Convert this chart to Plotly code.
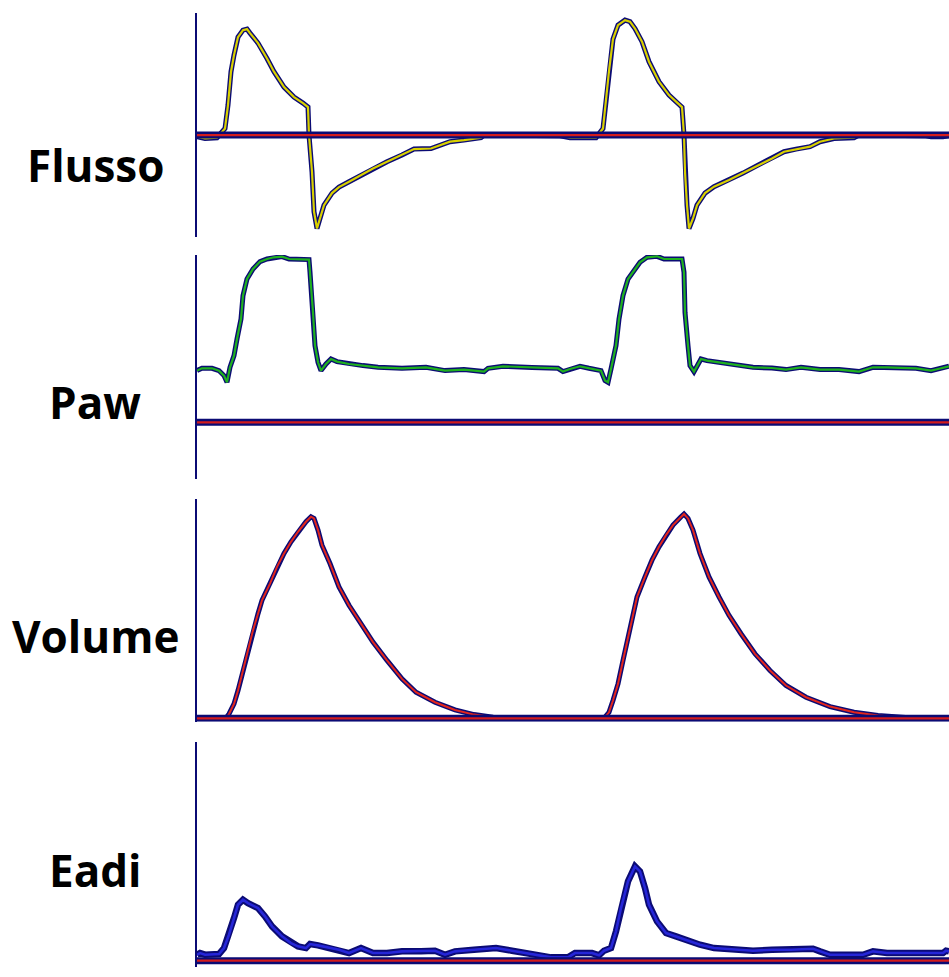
import plotly.graph_objects as go

# ---------------- data ----------------
# time in seconds, 100 px = 1 s
flow_t = [0.00, 0.08, 0.20, 0.24, 0.28, 0.31, 0.34, 0.37, 0.41, 0.46, 0.50, 0.53, 0.61, 0.70, 0.77,
          0.87, 0.97, 1.06, 1.11, 1.12, 1.15, 1.17, 1.20, 1.22, 1.27, 1.35, 1.42, 1.52, 1.64, 1.76,
          1.90, 2.05, 2.17, 2.34, 2.43, 2.53, 2.67, 2.84, 2.87, 3.63, 3.73, 3.99, 4.06, 4.09, 4.12,
          4.16, 4.21, 4.28, 4.33, 4.38, 4.45, 4.52, 4.62, 4.72, 4.81, 4.85, 4.87, 4.88, 4.90, 4.92,
          4.96, 5.00, 5.08, 5.17, 5.32, 5.46, 5.61, 5.75, 5.87, 5.99, 6.13, 6.23, 6.37, 6.57, 6.62,
          7.29, 7.34, 7.46, 7.52]
flusso = [-0.8, -1.7, -1.3, 0.8, 3.3, 15.0, 31.7, 40.0, 49.0, 52.5, 53.0, 51.0, 46.0, 38.3, 31.7,
          24.0, 19.0, 16.0, 14.0, 0.0, -18.3, -38.3, -46.7, -43.3, -35.0, -29.0, -26.0, -23.3, -20.0, -16.7,
          -13.3, -10.0, -7.0, -6.7, -5.0, -3.3, -2.5, -1.3, 0.0, -0.3, -1.3, -1.3, 3.3, 18.0, 32.0,
          48.0, 55.0, 57.5, 56.7, 53.3, 46.7, 36.7, 26.7, 20.0, 15.8, 14.0, 0.0, -18.3, -35.0, -46.7,
          -41.7, -35.0, -29.0, -25.8, -22.5, -19.0, -15.0, -11.7, -8.3, -7.0, -5.8, -3.3, -1.7, -1.3, 0.0,
          -0.3, -0.8, -0.8, -0.3]

paw_t = [0.00, 0.05, 0.15, 0.22, 0.27, 0.30, 0.33, 0.37, 0.40, 0.44, 0.46, 0.50, 0.56, 0.63, 0.70,
         0.77, 0.85, 0.92, 1.12, 1.13, 1.16, 1.18, 1.21, 1.24, 1.29, 1.34, 1.40, 1.52, 1.66, 1.81,
         2.05, 2.29, 2.48, 2.67, 2.87, 2.91, 3.06, 3.35, 3.61, 3.66, 3.73, 3.83, 3.92, 4.04, 4.08,
         4.11, 4.14, 4.19, 4.22, 4.26, 4.31, 4.37, 4.43, 4.50, 4.60, 4.67, 4.85, 4.87, 4.88, 4.91,
         4.93, 4.97, 5.00, 5.04, 5.10, 5.22, 5.37, 5.56, 5.75, 5.89, 6.04, 6.23, 6.42, 6.62, 6.76,
         6.90, 7.19, 7.34, 7.41, 7.52]
paw = [5.17, 5.40, 5.40, 5.17, 4.67, 4.00, 5.50, 6.67, 8.33, 10.33, 12.67, 14.33, 15.33, 16.07, 16.33,
       16.50, 16.57, 16.33, 16.27, 15.00, 11.00, 7.67, 6.00, 5.17, 5.83, 6.33, 6.07, 5.83, 5.67, 5.50,
       5.40, 5.50, 5.17, 5.27, 5.07, 5.40, 5.60, 5.47, 5.40, 5.07, 5.33, 5.60, 5.40, 5.17, 4.17,
       4.00, 5.33, 7.67, 10.33, 12.67, 14.33, 15.17, 16.00, 16.50, 16.60, 16.33, 16.33, 15.00, 11.00, 7.67,
       5.67, 5.07, 5.67, 6.33, 6.17, 6.00, 5.73, 5.50, 5.43, 5.27, 5.50, 5.27, 5.27, 5.07, 5.50,
       5.50, 5.40, 5.17, 5.33, 5.60]

vol_t = [0.00, 0.29, 0.32, 0.37, 0.41, 0.46, 0.51, 0.56, 0.61, 0.65, 0.73, 0.80, 0.87, 0.94, 1.01,
         1.09, 1.14, 1.17, 1.21, 1.25, 1.33, 1.42, 1.52, 1.64, 1.76, 1.90, 2.05, 2.19, 2.38, 2.58,
         2.77, 2.96, 3.11, 4.07, 4.12, 4.16, 4.21, 4.26, 4.31, 4.36, 4.40, 4.48, 4.55, 4.62, 4.69,
         4.76, 4.84, 4.87, 4.91, 4.96, 5.03, 5.12, 5.22, 5.32, 5.44, 5.58, 5.73, 5.89, 6.09, 6.33,
         6.57, 6.81, 7.05, 7.19, 7.52]
volume = [0.0, 0.0, 10.8, 35.8, 69.2, 119.2, 169.2, 219.2, 260.8, 294.2, 335.8, 377.5, 410.8, 440.0, 465.0,
          490.0, 502.5, 498.3, 469.2, 431.7, 385.8, 327.5, 281.7, 235.8, 190.0, 144.2, 98.3, 65.0, 40.0, 20.8,
          9.2, 2.5, 0.0, 0.0, 15.0, 44.2, 85.8, 144.2, 202.5, 252.5, 302.5, 352.5, 394.2, 427.5, 456.7,
          481.7, 502.5, 509.2, 498.3, 469.2, 410.8, 352.5, 302.5, 256.7, 210.8, 160.8, 119.2, 81.7, 52.5, 29.2,
          15.0, 6.7, 2.5, 0.0, 0.0]

eadi_t = [0.00, 0.03, 0.08, 0.22, 0.27, 0.32, 0.37, 0.41, 0.46, 0.51, 0.61, 0.68, 0.75, 0.85, 0.94,
          1.01, 1.09, 1.13, 1.21, 1.33, 1.42, 1.52, 1.64, 1.76, 1.90, 2.05, 2.24, 2.38, 2.48, 2.58,
          2.77, 2.99, 3.15, 3.30, 3.44, 3.54, 3.71, 3.78, 3.95, 4.02, 4.07, 4.14, 4.19, 4.24, 4.31,
          4.38, 4.43, 4.48, 4.52, 4.60, 4.69, 4.79, 4.88, 5.03, 5.17, 5.37, 5.56, 5.75, 5.94, 6.16,
          6.23, 6.33, 6.66, 6.76, 6.90, 7.19, 7.46, 7.49, 7.52]
eadi = [1.20, 1.53, 1.20, 1.33, 2.53, 5.20, 8.53, 11.20, 12.20, 11.53, 10.53, 8.87, 6.87, 4.87, 3.53,
        2.87, 2.53, 3.33, 3.07, 2.53, 2.20, 1.53, 2.53, 1.53, 1.53, 1.87, 1.87, 2.00, 1.20, 1.87,
        2.20, 2.53, 2.00, 1.53, 1.07, 0.67, 0.67, 1.53, 1.53, 1.07, 2.00, 2.53, 5.87, 10.53, 15.87,
        18.87, 17.87, 14.53, 11.20, 7.87, 5.53, 4.87, 4.20, 3.20, 2.53, 2.20, 2.00, 2.20, 2.20, 2.40,
        1.87, 1.20, 1.20, 1.87, 1.53, 1.53, 1.53, 2.00, 1.87]

labels = ["Flusso", "Paw", "Volume", "Eadi"]
series = [(flow_t, flusso), (paw_t, paw), (vol_t, volume), (eadi_t, eadi)]

# ---------------- styling / layout ----------------
W, H = 949, 977
x_left = 197 / W
y_domains = [[1 - 236.7 / H, 1 - 12.7 / H],
             [1 - 479.0 / H, 1 - 255.0 / H],
             [1 - 721.7 / H, 1 - 499.3 / H],
             [1 - 966.7 / H, 1 - 742.3 / H]]
y_ranges = [[-50.8, 61.2], [-5.67, 16.73], [-8.5, 546.0], [-1.2, 43.7]]
t_range = [0, 7.52]
inner_colors = ["#d8d000", "#1fb01f", "#e3261c", "#2626d8"]
outline_widths = [5, 5, 5, 6.5]
inner_widths = [2.2, 2.2, 2.0, 2.6]
navy = "#0b0b74"
label_y_px = [165, 402, 636, 870]

fig = go.Figure()
layout = dict(width=W, height=H, margin=dict(l=0, r=0, t=0, b=0),
              paper_bgcolor="white", plot_bgcolor="white", showlegend=False)
shapes = []
annotations = []

for i, ((tt, vv), name) in enumerate(zip(series, labels)):
    sfx = "" if i == 0 else str(i + 1)
    xa, ya = "x" + sfx, "y" + sfx
    fig.add_trace(go.Scatter(x=tt, y=vv, mode="lines", xaxis=xa, yaxis=ya,
                             line=dict(color=navy, width=outline_widths[i]),
                             hoverinfo="skip"))
    fig.add_trace(go.Scatter(x=tt, y=vv, mode="lines", xaxis=xa, yaxis=ya,
                             line=dict(color=inner_colors[i], width=inner_widths[i]),
                             name=name))
    layout["xaxis" + sfx] = dict(domain=[x_left, 1], range=t_range, visible=False,
                                 anchor=ya, fixedrange=True)
    layout["yaxis" + sfx] = dict(domain=y_domains[i], range=y_ranges[i], anchor=xa,
                                 showline=True, linecolor=navy, linewidth=1.5,
                                 showgrid=False, zeroline=False, showticklabels=False,
                                 ticks="", fixedrange=True)
    # zero reference line: navy band with red centre
    shapes.append(dict(type="line", xref=xa + " domain", yref=ya, x0=0, x1=1, y0=0, y1=0,
                       line=dict(color=navy, width=7), layer="above"))
    shapes.append(dict(type="line", xref=xa + " domain", yref=ya, x0=0, x1=1, y0=0, y1=0,
                       line=dict(color="#d41c1c", width=2.2), layer="above"))
    annotations.append(dict(text="<b>" + name + "</b>", xref="paper", yref="paper",
                            x=95 / W, y=1 - label_y_px[i] / H, xanchor="center", yanchor="middle",
                            showarrow=False,
                            font=dict(family="Open Sans", size=44, color="black")))

layout["shapes"] = shapes
layout["annotations"] = annotations
fig.update_layout(**layout)
fig.write_html("out.html", config={"displayModeBar": False},
               post_script="document.body.style.margin='0';document.body.style.overflow='hidden';")
